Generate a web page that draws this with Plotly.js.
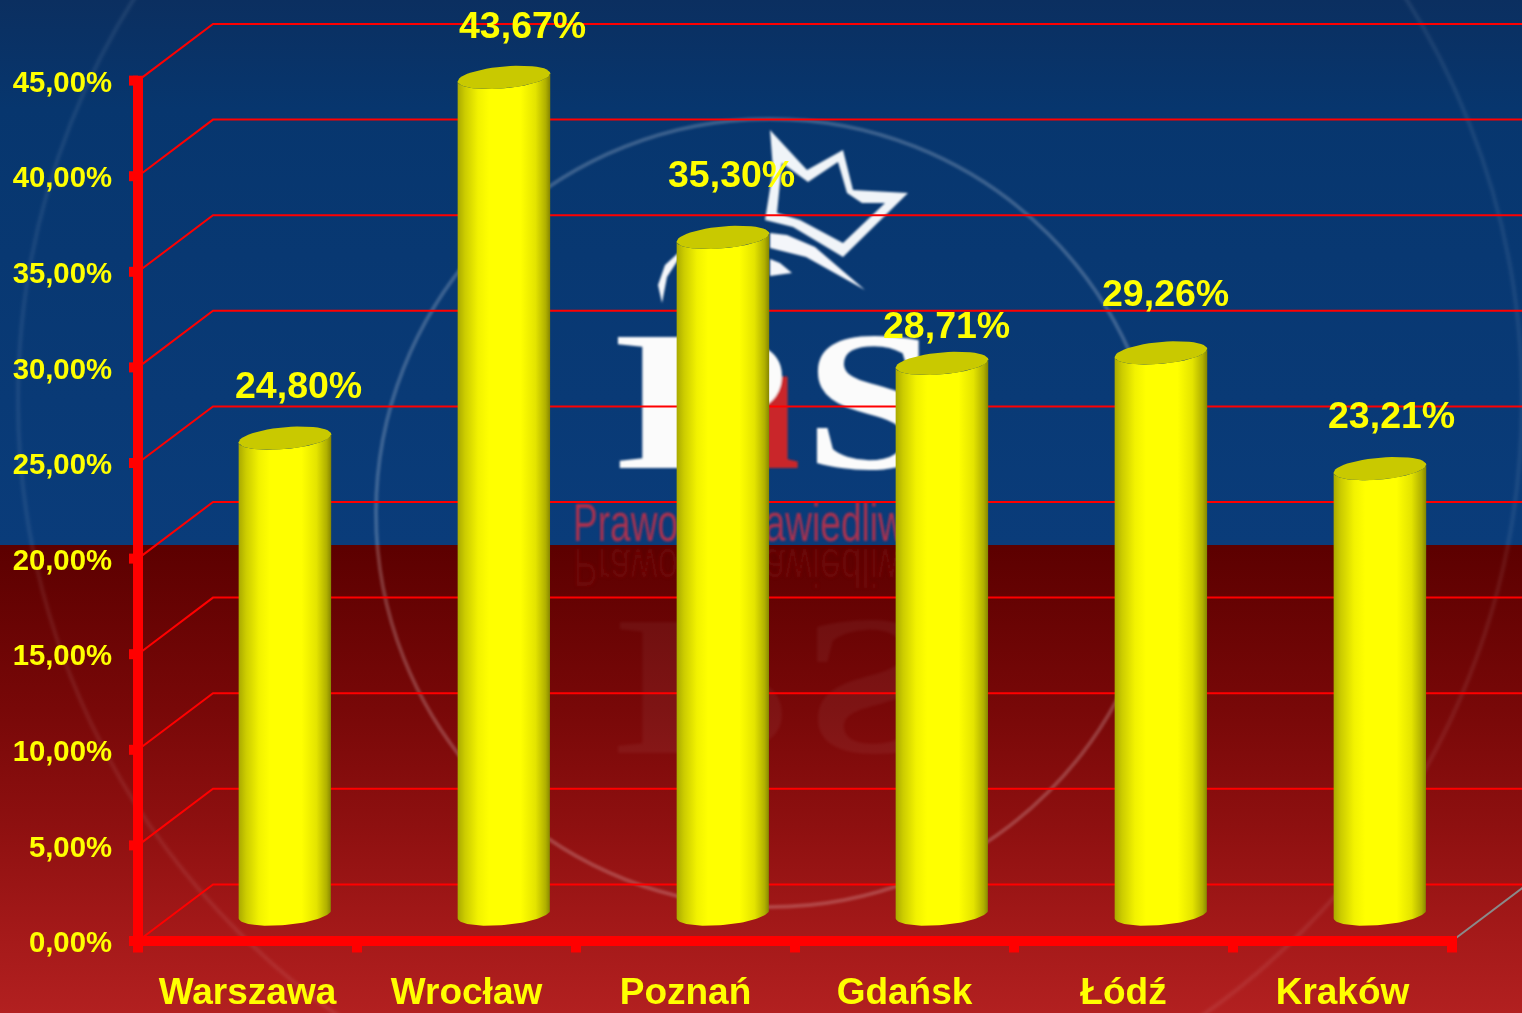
<!DOCTYPE html>
<html><head><meta charset="utf-8">
<script src="https://cdn.plot.ly/plotly-3.0.1.min.js"></script>
<style>
html,body{margin:0;padding:0;width:1522px;height:1013px;overflow:hidden;background:#0a3a76}
#bg{position:absolute;left:0;top:0}
#chart{position:absolute;left:0;top:0;width:1522px;height:1013px}
</style></head><body>
<svg id="bg" width="1522" height="1013" viewBox="0 0 1522 1013">
<defs>
<linearGradient id="blue" x1="0" y1="0" x2="0" y2="1">
<stop offset="0" stop-color="#0b2f60"/><stop offset="0.2" stop-color="#07366e"/><stop offset="1" stop-color="#0a3c7a"/></linearGradient>
<linearGradient id="red" x1="0" y1="0" x2="0" y2="1">
<stop offset="0" stop-color="#5c0000"/><stop offset="0.35" stop-color="#780808"/><stop offset="0.6" stop-color="#8e1010"/><stop offset="0.85" stop-color="#a61a1a"/><stop offset="1" stop-color="#b22020"/></linearGradient>
<filter id="soft"><feGaussianBlur stdDeviation="0.8"/></filter>
<filter id="soft2"><feGaussianBlur stdDeviation="1.6"/></filter>
</defs>
<rect x="0" y="0" width="1522" height="545" fill="url(#blue)"/>
<rect x="0" y="545" width="1522" height="468" fill="url(#red)"/>
<circle cx="770" cy="400" r="752" fill="none" stroke="#ffffff" stroke-opacity="0.08" stroke-width="4" filter="url(#soft2)"/>
<circle cx="770" cy="513" r="394" fill="none" stroke="#ffffff" stroke-opacity="0.2" stroke-width="4" filter="url(#soft)"/>
<g filter="url(#soft)">
<path fill-rule="evenodd" fill="#f0f4f8" d="M770,130 L807,170 L843,150 L853,190 L908,193 L843,257 L793,227 L765,220 L773,170 Z M782,163 L808,182 L838,162 L847,193 L862,203 L885,203 L843,243 L800,220 L777,213 Z"/>
<path d="M770,233 L787,235 L815,247 L865,290 L806,257 L770,248 Z" fill="#f4f6fa"/>
<path d="M770,259 L780,263 L792,273 L770,276 Z" fill="#f4f6fa"/>
<path d="M662,303 L658,285 L665,265 L678,253 L678,260 L667,277 Z" fill="#f4f6fa"/>
<g font-family="Liberation Serif" font-weight="700" font-size="200">
<text x="745" y="468" fill="#c9262a">ı</text>
<text transform="translate(613,468) scale(1.45,1)" fill="#fbfbfb">P</text>
<text transform="translate(804,468) scale(1.22,1)" fill="#fbfbfb">S</text>
</g>
<text transform="translate(573,541) scale(0.70,1)" font-family="Liberation Sans" font-size="53" fill="#a83050">Prawo i Sprawiedliwość</text>
</g>
<g transform="translate(0,1090) scale(1,-1)" filter="url(#soft2)">
<text transform="translate(573,541) scale(0.70,1)" font-family="Liberation Sans" font-size="53" fill="#8a1010" fill-opacity="0.35">Prawo i Sprawiedliwość</text>
<g font-family="Liberation Serif" font-weight="700" font-size="200" fill="#ffffff" fill-opacity="0.05">
<text transform="translate(613,468) scale(1.45,1)">P</text>
<text transform="translate(804,468) scale(1.22,1)">S</text>
</g>
</g>
</svg>
<div id="chart"></div>
<script>
// Chart data
const cities = ["Warszawa","Wrocław","Poznań","Gdańsk","Łódź","Kraków"];
const shares = [24.80,43.67,35.30,28.71,29.26,23.21];
const shareLabels = ["24,80%","43,67%","35,30%","28,71%","29,26%","23,21%"];
const yTickValues = [0,5,10,15,20,25,30,35,40,45];
const yTickLabels = ["0,00%","5,00%","10,00%","15,00%","20,00%","25,00%","30,00%","35,00%","40,00%","45,00%"];

// Scale of the plot (pixels per axis unit) used only for the fake 3D depth
const PX_X = 219, PX_Y = 19.13;
const xMin = -10/PX_X, xMax = 1384/PX_X, yMin = -13/PX_Y, yMax = 941.5/PX_Y;
const depthX = 75/PX_X, depthY = 2.96;
const barBase = 1.41, barTopExtra = 1.5, barShift = 0.671;
const a = 46.3, b = 11, tilt = -0.087;   // cylinder ellipse, pixels

const traces = [];
const line = (x,y,style)=>traces.push({type:"scatter",mode:"lines",hoverinfo:"skip",showlegend:false,x,y,line:style});

// Gridlines with their perspective leg to the front axis
yTickValues.forEach(v=>line([0,depthX,xMax],[v,v+depthY,v+depthY],{color:"#ff0000",width:2}));
// Floor edge on the right
line([6,6+depthX],[0,depthY],{color:"#8a8a8a",width:2});

function arc(cx,cv,t0,t1){
  const xs=[],ys=[],n=48;
  for(let k=0;k<=n;k++){
    const t=t0+(t1-t0)*k/n, dx=a*Math.cos(t), dy=b*Math.sin(t)+tilt*dx;
    xs.push(cx+dx/PX_X); ys.push(cv-dy/PX_Y);
  }
  return [xs,ys];
}
const bodyScale=[[0,"#aaaa00"],[0.08,"#cccc00"],[0.22,"#f2f200"],[0.34,"#ffff00"],[0.68,"#ffff00"],[0.84,"#e4e400"],[0.95,"#b0b000"],[1,"#858500"]];
shares.forEach((v,i)=>{
  const cx=i+barShift, top=v+barTopExtra;
  const [tx,ty]=arc(cx,top,Math.PI,0);        // upper arc of the top
  const [bx,by]=arc(cx,barBase,0,Math.PI);    // front arc of the base
  traces.push({type:"scatter",mode:"lines",fill:"toself",hoverinfo:"skip",showlegend:false,
    x:tx.concat(bx),y:ty.concat(by),line:{width:0,color:"rgba(0,0,0,0)"},
    fillgradient:{type:"horizontal",colorscale:bodyScale}});
  const [ex,ey]=arc(cx,top,0,2*Math.PI);
  traces.push({type:"scatter",mode:"lines",fill:"toself",hoverinfo:"skip",showlegend:false,
    x:ex,y:ey,line:{width:0,color:"rgba(0,0,0,0)"},fillcolor:"#c9c900"});
});

// Heavy axes and their tick marks
const heavy={color:"#ff0000",width:10};
line([0,0],[-0.6,45.26],heavy);
line([0,6+5/PX_X],[0,0],heavy);
[1,2,3,4,5,6].forEach(k=>line([k,k],[0,-0.6],heavy));
yTickValues.forEach(v=>line([-9/PX_X,0],[v,v],heavy));

const labelDx=[14,19,8.5,4.5,4.5,11.5], labelDy=[53,52,63,38,60,54];
const annotations=shares.map((v,i)=>({
  x:i+barShift,y:v+barTopExtra,xref:"x",yref:"y",text:shareLabels[i],showarrow:false,
  xshift:labelDx[i],yshift:labelDy[i],xanchor:"center",yanchor:"middle",
  font:{family:"Liberation Sans",size:37.5,color:"#ffff00",weight:700}
}));

const layout={
  width:1522,height:1013,
  margin:{l:128,r:0,t:0,b:58.5,pad:0},
  paper_bgcolor:"rgba(0,0,0,0)",plot_bgcolor:"rgba(0,0,0,0)",
  showlegend:false,
  annotations,
  xaxis:{range:[xMin,xMax],tickmode:"array",tickvals:cities.map((c,i)=>i+0.5),ticktext:cities,
    ticks:"",ticklabelstandoff:12,showgrid:false,zeroline:false,showline:false,
    tickfont:{family:"Liberation Sans",size:37,color:"#ffff00",weight:700},fixedrange:true,automargin:false},
  yaxis:{range:[yMin,yMax],tickmode:"array",tickvals:yTickValues,ticktext:yTickLabels,
    ticks:"",ticklabelstandoff:15,ticklabelshift:1,showgrid:false,zeroline:false,showline:false,
    tickfont:{family:"Liberation Sans",size:29.3,color:"#ffff00",weight:700},fixedrange:true,automargin:false}
};
Plotly.newPlot("chart",traces,layout,{displayModeBar:false,staticPlot:true});
</script>
</body></html>
